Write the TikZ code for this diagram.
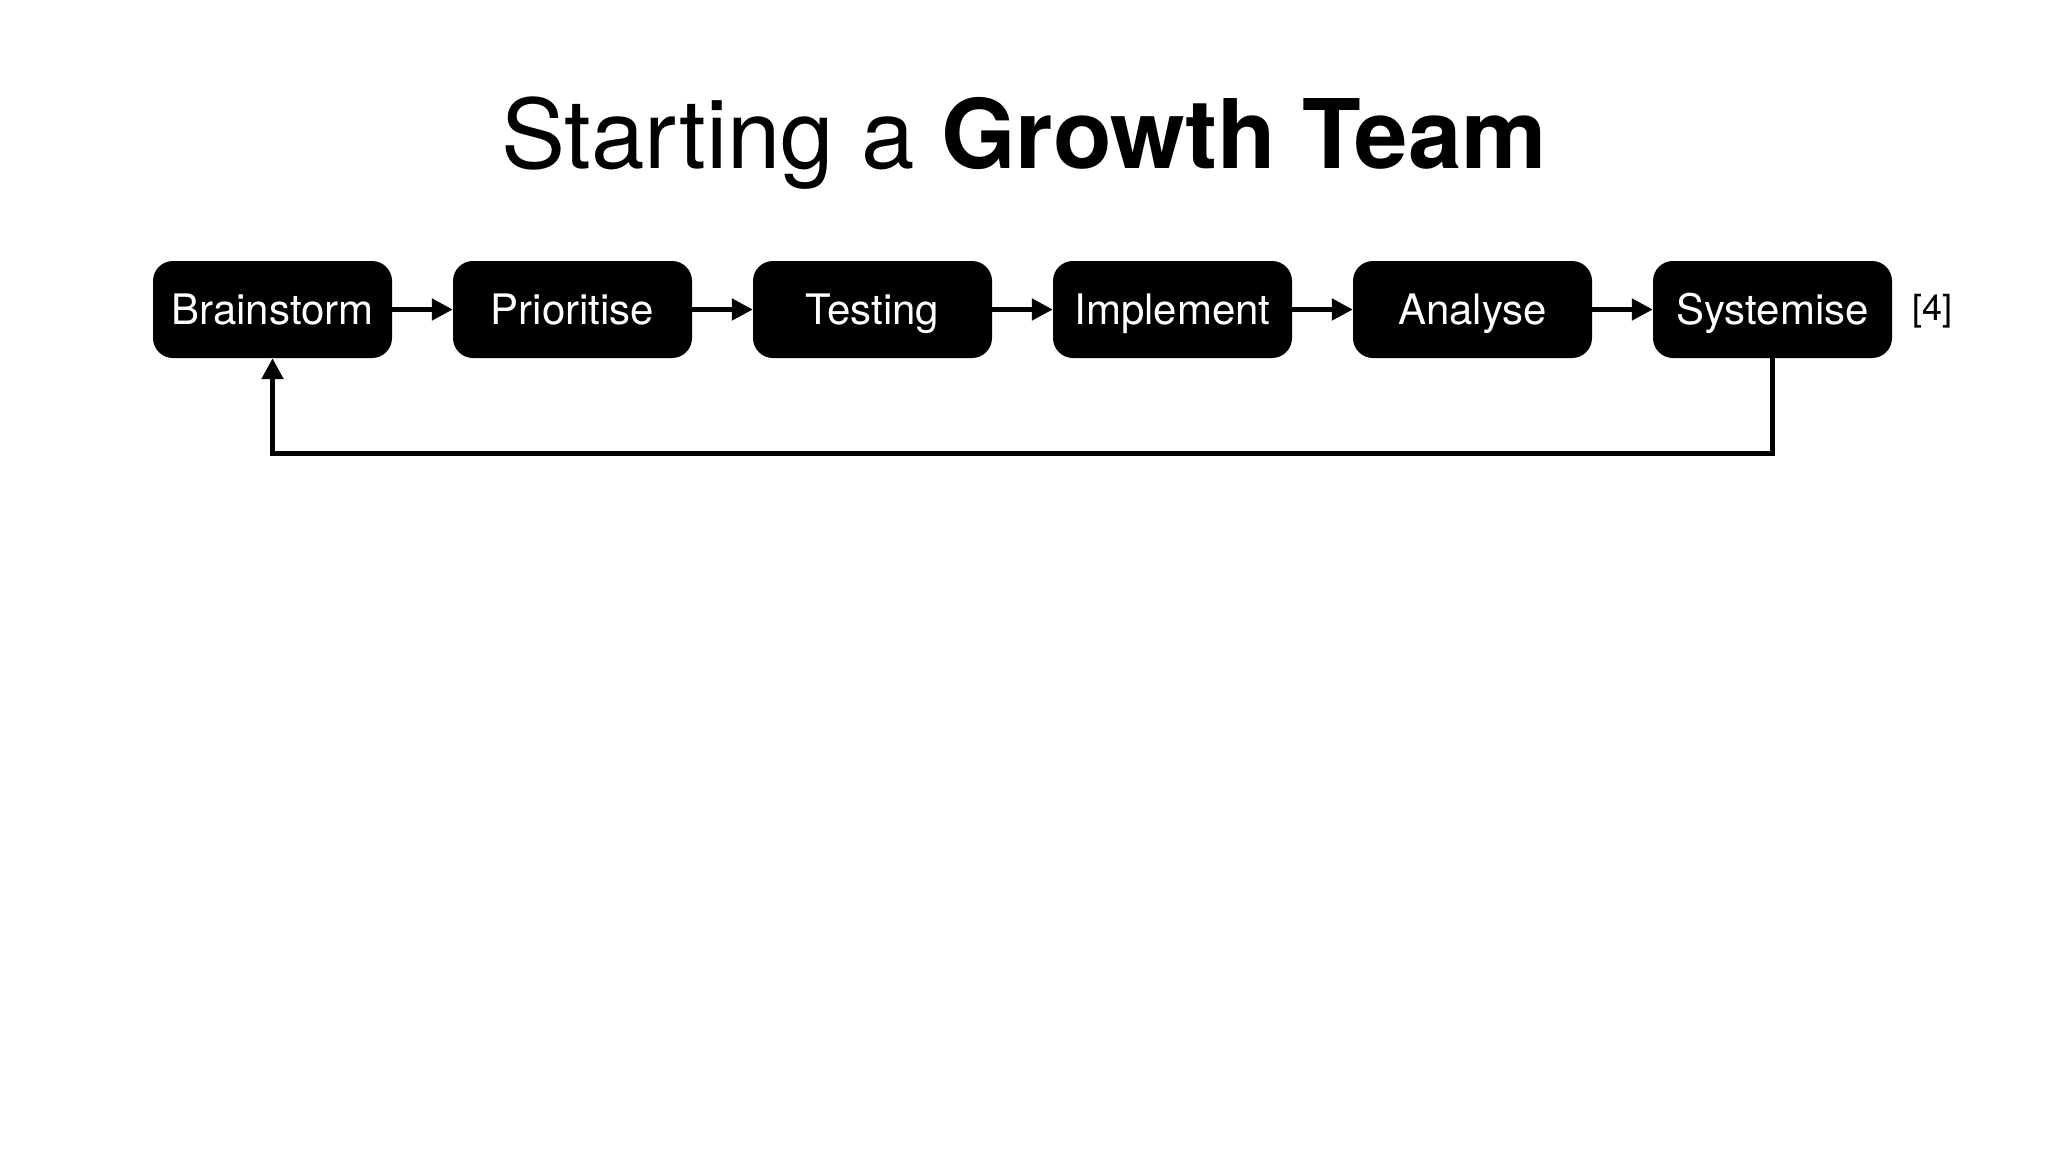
\documentclass[tikz,border=0pt]{standalone}
\usepackage{fontspec}
\setmainfont{TeX Gyre Heros}
\usetikzlibrary{arrows.meta}
\tikzset{
  stepbox/.style={fill=black, text=white, rounded corners=20pt, minimum width=239pt, minimum height=97pt, inner sep=0pt, text height=30pt, text depth=0pt, font=\fontsize{42}{50}\selectfont},
  flow/.style={line width=5pt, -{Triangle[length=21pt,width=21pt]}}
}
\begin{document}
\begin{tikzpicture}[x=1pt,y=-1pt]
\useasboundingbox[fill=white] (0,0) rectangle (2048,1152);
\node[anchor=base, font=\fontsize{96}{110}\selectfont] (title) at (1024,168) {Starting a \textbf{Growth Team}};
\node[stepbox] (n1) at (272.5,309.5) {Brainstorm};
\node[stepbox] (n2) at (572.5,309.5) {Prioritise};
\node[stepbox] (n3) at (872.5,309.5) {Testing};
\node[stepbox] (n4) at (1172.5,309.5) {Implement};
\node[stepbox] (n5) at (1472.5,309.5) {Analyse};
\node[stepbox] (n6) at (1772.5,309.5) {Systemise};
\node[font=\fontsize{36}{42}\selectfont, anchor=west, inner sep=0pt] (ref) at (1912,311) {[4]};
\draw[flow] (n1) -- (n2);
\draw[flow] (n2) -- (n3);
\draw[flow] (n3) -- (n4);
\draw[flow] (n4) -- (n5);
\draw[flow] (n5) -- (n6);
\draw[flow] (n6.south) -- ++(0,95) -| (n1.south);
\end{tikzpicture}
\end{document}
